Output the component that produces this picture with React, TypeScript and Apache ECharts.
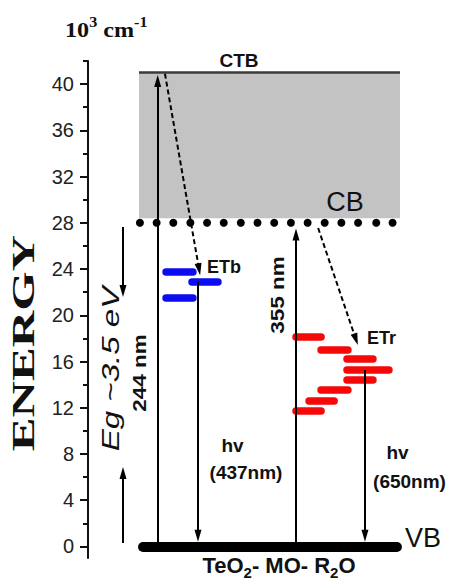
import React, { useEffect, useRef } from 'react';
import * as echarts from 'echarts';

// ---- data (energy in 10^3 cm^-1, x in arbitrary diagram units 0..100) ----
const CTB_LEVEL = 41;
const CB_LEVEL = 28;
const CB_BOX_BOTTOM = 28.4;
const VB_LEVEL = 0;
const BAND_X = [14.05, 85.95];
const VB_X = [15.15, 85.1];
const cbDotsX = [14.3, 18.9, 23.5, 28.2, 32.8, 37.4, 42.1, 46.7, 51.3, 55.9, 60.5, 65.2, 69.8, 74.4, 79.4, 83.9];

const majorTicks = [0, 4, 8, 12, 16, 20, 24, 28, 32, 36, 40];
const minorTicks = [2, 6, 10, 14, 18, 22, 26, 30, 34, 38, 42];

// [xStart, xEnd, energy]
const blueLevels = [
  [21.5, 28.9, 23.75],
  [28.65, 35.8, 22.9],
  [21.5, 28.9, 21.5],
];
const redLevels = [
  [57.3, 64.2, 18.1],
  [64.2, 71.6, 17.06],
  [71.35, 78.5, 16.28],
  [71.35, 82.9, 15.27],
  [71.35, 78.5, 14.4],
  [64.2, 71.6, 13.54],
  [60.9, 67.8, 12.59],
  [57.3, 64.2, 11.72],
];
// [x0, y0, x1, y1]
const solidArrows = [
  [19.2, 0, 19.2, 40.28],
  [30.3, 22.9, 30.3, 0.92],
  [57.3, 0, 57.3, 26.98],
  [76.3, 15.27, 76.3, 0.92],
  [9.64, 27.64, 9.64, 22.1],
  [9.64, 0.3, 9.64, 6.36],
];
const dashedArrows = [
  [21.2, 40.9, 30.6, 23.98],
  [63.4, 27.55, 73.8, 17.92],
];

const SANS = '"Liberation Sans", Arial, sans-serif';
const SERIF = '"Liberation Serif", "Times New Roman", serif';

function segs(list: number[][]) {
  return list.map((d) => ({ coords: [[d[0], d[2]], [d[1], d[2]]] }));
}
function arrows(list: number[][]) {
  return list.map((d) => ({ coords: [[d[0], d[1]], [d[2], d[3]]] }));
}

function txt(text: string, x: number, y: number, style: any, extra: any = {}) {
  return {
    type: 'text',
    x,
    y,
    z: 100,
    ...extra,
    style: {
      text,
      fill: '#111',
      align: 'center',
      verticalAlign: 'middle',
      textAlign: 'center',
      textVerticalAlign: 'middle',
      ...style,
    },
  };
}

export default function App() {
  const ref = useRef<HTMLDivElement>(null);
  useEffect(() => {
    if (!ref.current) return;
    const chart = echarts.init(ref.current, null, { renderer: 'svg' });
    const yBase = {
      type: 'value',
      min: -1,
      max: 42,
      position: 'left',
      splitLine: { show: false },
    };
    chart.setOption({
      animation: false,
      backgroundColor: '#fff',
      grid: { left: 88, right: 0, top: 61, bottom: 29 },
      xAxis: { type: 'value', min: 0, max: 100, show: false },
      yAxis: [
        {
          ...yBase,
          axisLine: { show: true, lineStyle: { color: '#111', width: 2 } },
          axisTick: { show: true, customValues: majorTicks, length: 8, lineStyle: { color: '#111', width: 2 } },
          axisLabel: {
            show: true,
            customValues: majorTicks,
            margin: 14,
            fontSize: 20,
            color: '#222',
            fontFamily: SANS,
          },
        },
        {
          ...yBase,
          offset: 0,
          axisLine: { show: false },
          axisTick: { show: true, customValues: minorTicks, length: 5, lineStyle: { color: '#111', width: 2 } },
          axisLabel: { show: false },
        },
      ],
      series: [
        {
          type: 'scatter',
          name: 'CB',
          data: cbDotsX.map((x) => [x, CB_LEVEL]),
          symbolSize: 8,
          itemStyle: { color: '#000', opacity: 1 },
          z: 3,
          markArea: {
            silent: true,
            itemStyle: { color: '#c3c3c3', opacity: 1 },
            data: [[{ coord: [BAND_X[0], CB_BOX_BOTTOM] }, { coord: [BAND_X[1], CTB_LEVEL] }]],
          },
        },
        {
          type: 'lines',
          coordinateSystem: 'cartesian2d',
          name: 'CTB',
          data: [{ coords: [[BAND_X[0], CTB_LEVEL], [BAND_X[1], CTB_LEVEL]] }],
          lineStyle: { color: '#3a3a3a', width: 2.5, opacity: 1 },
          z: 4,
        },
        {
          type: 'lines',
          coordinateSystem: 'cartesian2d',
          name: 'VB',
          data: [{ coords: [[VB_X[0], VB_LEVEL], [VB_X[1], VB_LEVEL]] }],
          lineStyle: { color: '#000', width: 10, cap: 'round', opacity: 1 },
          z: 6,
        },
        {
          type: 'lines',
          coordinateSystem: 'cartesian2d',
          name: 'ETb',
          data: segs(blueLevels),
          lineStyle: { color: '#0c0cf0', width: 7.5, cap: 'round', opacity: 1 },
          z: 5,
        },
        {
          type: 'lines',
          coordinateSystem: 'cartesian2d',
          name: 'ETr',
          data: segs(redLevels),
          lineStyle: { color: '#f50808', width: 7.5, cap: 'round', opacity: 1 },
          z: 5,
        },
        {
          type: 'lines',
          coordinateSystem: 'cartesian2d',
          name: 'transitions',
          data: arrows(solidArrows),
          symbol: ['none', 'triangle'],
          symbolSize: [1, [7, 12]],
          lineStyle: { color: '#000', width: 2, opacity: 1 },
          itemStyle: { color: '#000' },
          z: 7,
        },
        {
          type: 'lines',
          coordinateSystem: 'cartesian2d',
          name: 'relaxation',
          data: arrows(dashedArrows),
          symbol: ['none', 'triangle'],
          symbolSize: [1, [7, 12]],
          lineStyle: { color: '#000', width: 2, type: [5, 3], opacity: 1 },
          itemStyle: { color: '#000' },
          z: 7,
        },
      ],
      graphic: [
        txt('{a|10}{s|3}{a| cm}{s|-1}', 65, 28, {
          align: 'left',
          textAlign: 'left',
          rich: {
            a: { fontSize: 21, fontWeight: 'bold', fontFamily: SERIF, lineHeight: 26, verticalAlign: 'bottom', fill: '#111' },
            s: { fontSize: 14, fontWeight: 'bold', fontFamily: SERIF, lineHeight: 8, verticalAlign: 'top', fill: '#111' },
          },
        }, { scaleX: 1.15 }),
        txt('ENERGY', 23.5, 343, { fontSize: 32, fontWeight: 'bold', fontFamily: SERIF }, { rotation: Math.PI / 2, scaleX: 1.58 }),
        txt('Eg ~3.5 eV', 111, 369, { fontSize: 24, fontStyle: 'italic', fontFamily: SANS }, { rotation: Math.PI / 2, scaleX: 1.38 }),
        txt('244 nm', 140, 373, { fontSize: 18, fontWeight: 'bold', fontFamily: SANS }, { rotation: Math.PI / 2, scaleX: 1.25 }),
        txt('355 nm', 277.5, 295, { fontSize: 18, fontWeight: 'bold', fontFamily: SANS }, { rotation: Math.PI / 2, scaleX: 1.25 }),
        txt('CTB', 239, 60, { fontSize: 19, fontWeight: 'bold', fontFamily: SANS }),
        txt('CB', 345, 202, { fontSize: 27, fontFamily: SANS }),
        txt('VB', 405, 538, { fontSize: 27, fontFamily: SANS, align: 'left', textAlign: 'left' }),
        txt('ETb', 207, 267, { fontSize: 18, fontWeight: 'bold', fontFamily: SANS, align: 'left', textAlign: 'left' }),
        txt('ETr', 367, 338, { fontSize: 18, fontWeight: 'bold', fontFamily: SANS, align: 'left', textAlign: 'left' }),
        txt('hv', 232.5, 445, { fontSize: 19, fontWeight: 'bold', fontFamily: SANS }),
        txt('(437nm)', 246, 472, { fontSize: 19, fontWeight: 'bold', fontFamily: SANS }),
        txt('hv', 397.5, 452, { fontSize: 19, fontWeight: 'bold', fontFamily: SANS }),
        txt('(650nm)', 409.5, 481, { fontSize: 19, fontWeight: 'bold', fontFamily: SANS }),
        txt('{b|TeO}{u|2}{b|- MO- R}{u|2}{b|O}', 279, 567, {
          rich: {
            b: { fontSize: 22, fontWeight: 'bold', fontFamily: SANS, lineHeight: 26, verticalAlign: 'top', fill: '#111' },
            u: { fontSize: 15, fontWeight: 'bold', fontFamily: SANS, lineHeight: 10, verticalAlign: 'bottom', fill: '#111' },
          },
        }),
      ],
    });
    return () => chart.dispose();
  }, []);
  return <div ref={ref} style={{ position: 'absolute', left: 0, top: 0, width: 451, height: 587 }} />;
}
